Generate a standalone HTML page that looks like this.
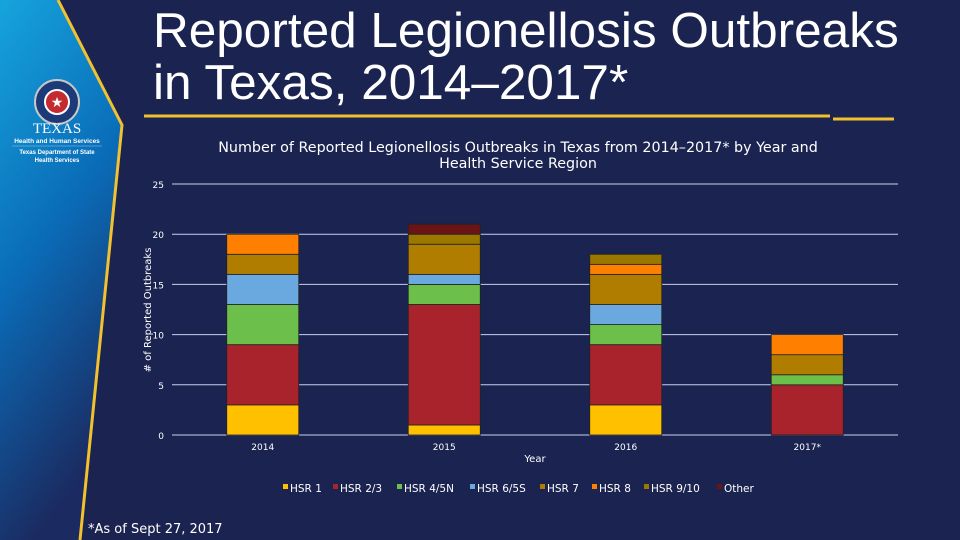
<!DOCTYPE html>
<html><head><meta charset="utf-8"><style>
body{margin:0;width:960px;height:540px;overflow:hidden;background:#1b2350;font-family:"Liberation Sans",sans-serif;}
#wrap{position:relative;width:960px;height:540px;}
</style></head><body><div id="wrap">
<svg width="960" height="540" style="position:absolute;left:0;top:0">
<defs><linearGradient id="sg" x1="0" y1="0" x2="0.3" y2="1"><stop offset="0" stop-color="#16a4dc"/><stop offset="0.5" stop-color="#0a6cb8"/><stop offset="1" stop-color="#1b2a60"/></linearGradient></defs>
<polygon points="0,0 58,0 122,125 80,540 0,540" fill="url(#sg)"/>
<polyline points="58,0 122,125 80,540" fill="none" stroke="#f2c12e" stroke-width="3"/>
<g>
<circle cx="57" cy="102" r="22" fill="#1d3a78" stroke="#c8c8c8" stroke-width="2"/>
<circle cx="57" cy="102" r="12" fill="#c42a30" stroke="#fff" stroke-width="2"/>
<text x="57" y="107" font-size="14" fill="#fff" text-anchor="middle">★</text>
<text x="57" y="133" font-size="15" fill="#fff" text-anchor="middle" font-family="Liberation Serif">TEXAS</text>
<text x="57" y="139" font-size="6.5" fill="#fff" text-anchor="middle" font-weight="bold" dy="4">Health and Human Services</text>
<line x1="12" y1="146" x2="102" y2="146" stroke="#9fc4e8" stroke-width="0.6"/>
<text x="57" y="154" font-size="6" fill="#fff" text-anchor="middle" font-weight="bold">Texas Department of State</text>
<text x="57" y="162" font-size="6" fill="#fff" text-anchor="middle" font-weight="bold">Health Services</text>
</g>
<line x1="144" y1="116" x2="830" y2="116" stroke="#f2c12e" stroke-width="3"/>
<line x1="833" y1="119" x2="894" y2="119" stroke="#f2c12e" stroke-width="3"/>
<text fill="#fff" font-size="49.5"><tspan x="153" y="47">Reported Legionellosis Outbreaks</tspan><tspan x="153" y="99">in Texas, 2014–2017*</tspan></text>
<text fill="#fff" font-family="DejaVu Sans" text-anchor="middle" style="font-size:14.3px"><tspan x="518" y="152">Number of Reported Legionellosis Outbreaks in Texas from 2014–2017* by Year and</tspan><tspan x="518" y="168">Health Service Region</tspan></text>
<g id="plot"></g>
<text transform="translate(151,310) rotate(-90)" fill="#fff" font-size="10" font-family="DejaVu Sans" text-anchor="middle"># of Reported Outbreaks</text>
<text x="535" y="462" fill="#fff" font-size="10" font-family="DejaVu Sans" text-anchor="middle">Year</text>
<g id="legend"></g>
<text x="88" y="533" fill="#fff" font-size="13" font-family="DejaVu Sans">*As of Sept 27, 2017</text>
</svg>
<script>
const categories=["2014","2015","2016","2017*"];
const seriesNames=["HSR 1","HSR 2/3","HSR 4/5N","HSR 6/5S","HSR 7","HSR 8","HSR 9/10","Other"];
const hsr1=[3,1,3,0];
const hsr23=[6,12,6,5];
const hsr45n=[4,2,2,1];
const hsr65s=[3,1,2,0];
const hsr7=[2,3,3,2];
const hsr8=[2,0,1,2];
const hsr910=[0,1,1,0];
const other=[0,1,0,0];
const yTicks=[0,5,10,15,20,25];
const colors=["#ffc000","#a8232b","#6cbf4a","#6aa8e0","#b07d00","#ff8000","#9a7800","#6b1417"];
const series=[hsr1,hsr23,hsr45n,hsr65s,hsr7,hsr8,hsr910,other];
const NS="http://www.w3.org/2000/svg";
const x0=172,x1=898,y0=435,yTop=184,yMax=25;
const ys=v=>y0-(y0-yTop)*v/yMax;
const bw=(x1-x0)/categories.length;
const xc=i=>x0+bw*(i+0.5);
const plot=document.getElementById('plot');
function mk(t,a,p){const e=document.createElementNS(NS,t);for(const k in a)e.setAttribute(k,a[k]);p.appendChild(e);return e;}
yTicks.forEach(v=>{
const l=mk('line',{x1:x0,x2:x1,y1:ys(v),y2:ys(v),stroke:'#c8d0f0','stroke-width':1},plot);


const t=mk('text',{x:x0-8,y:ys(v)+4,fill:'#fff','font-size':9,'font-family':'DejaVu Sans','text-anchor':'end'},plot);
t.textContent=v;


});
categories.forEach((c,i)=>{
let acc=0;
series.forEach((s,j)=>{
const v=s[i];if(!v)return;
const r=mk('rect',{x:xc(i)-36,width:72,y:ys(acc+v),height:ys(acc)-ys(acc+v),fill:colors[j],stroke:'#222','stroke-width':0.8},plot);


acc+=v;
});
const t=mk('text',{x:xc(i),y:450,fill:'#fff','font-size':9,'font-family':'DejaVu Sans','text-anchor':'middle'},plot);
t.textContent=c;


});
const lg=document.getElementById('legend');
const lx=[288,338,402,475,545,597,649,722];
seriesNames.forEach((n,j)=>{
const g=mk('g',{},lg);


mk('rect',{x:lx[j]-5,y:484,width:5,height:5,fill:colors[j]},g);
const t=mk('text',{x:lx[j]+2,y:492,fill:'#fff','font-size':10.5,'font-family':'DejaVu Sans'},g);
t.textContent=n;
});
</script>
</div></body></html>
